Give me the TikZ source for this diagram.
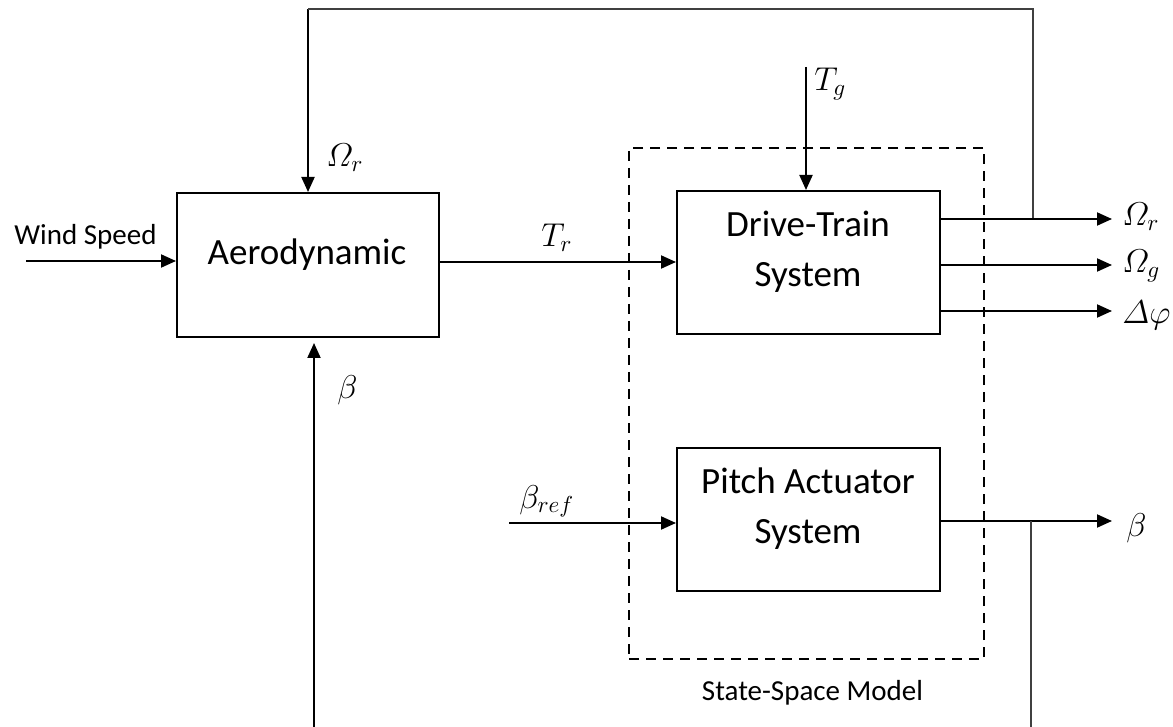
\RequirePackage{fix-cm}
\documentclass[tikz,border=0pt]{standalone}
\usepackage{amsmath}
\usepackage{fontspec}
\setmainfont{Carlito}
\usetikzlibrary{arrows.meta}
\begin{document}
\begin{tikzpicture}[x=0.5pt,y=-0.5pt,
  blk/.style={draw, line width=1pt, inner sep=0pt, anchor=north west},
  dashbox/.style={draw, line width=1pt, dash pattern=on 5pt off 3.5pt, inner sep=0pt, anchor=north west},
  arr/.style={line width=1pt, -{Triangle[length=7.5pt,width=6.5pt]}},
  fb/.style={line width=0.6pt, draw=black!75},
  bigtxt/.style={font=\fontsize{18.5}{25}\selectfont, inner sep=0pt, align=center},
  smalltxt/.style={font=\fontsize{14.5}{17}\selectfont, inner sep=0pt},
  mlab/.style={font=\fontsize{16.5}{18}\selectfont, inner sep=0pt, anchor=base west}]
\useasboundingbox (0,0) rectangle (1173,727);

% blocks
\node[dashbox, minimum width=177.5pt, minimum height=255.5pt] (ssm) at (628,147) {};
\node[blk, minimum width=131pt, minimum height=72pt] (aero) at (176,192) {};
\node[blk, minimum width=131.5pt, minimum height=71.5pt] (drive) at (676,190) {};
\node[blk, minimum width=131.5pt, minimum height=71.5pt] (pitch) at (676,447) {};

% block texts
\node[bigtxt, anchor=base] (aeroT) at (307,265) {Aerodynamic};
\node[bigtxt] (driveT) at (808,252) {Drive-Train\\System};
\node[bigtxt] (pitchT) at (808,509) {Pitch Actuator\\System};
\node[smalltxt] (wsT) at (85.5,237) {Wind Speed};
\node[smalltxt] (ssmT) at (812.5,693) {State-Space Model};

% coordinates
\coordinate (ws) at (26,261);
\coordinate (tl) at (308,9);
\coordinate (tr) at (1033,9);
\coordinate (bb) at (314,727);
\coordinate (tg) at (806,67);
\coordinate (o1) at (1112,219);
\coordinate (o2) at (1112,265);
\coordinate (o3) at (1112,311);
\coordinate (bo) at (1112,521);
\coordinate (bfb) at (1031,727);
\coordinate (bref) at (509,523);
\coordinate (trs) at (439,262);

% connectors
\draw[arr] (ws) -- (ws -| aero.west);
\draw[arr] (tl) -- (tl |- aero.north);
\draw[fb] (tl) -- (tr) -- (tr |- o1);
\draw[arr] (bb) -- ([yshift=-2.5pt]bb |- aero.south);
\draw[arr] (trs) -- (trs -| drive.west);
\draw[arr] (tg) -- (tg |- drive.north);
\draw[arr] (o1 -| drive.east) -- (o1);
\draw[arr] (o2 -| drive.east) -- (o2);
\draw[arr] (o3 -| drive.east) -- (o3);
\draw[arr] (bref) -- (bref -| pitch.west);
\draw[arr] (bo -| pitch.east) -- (bo);
\draw[fb] (bfb) -- (bfb |- bo);

% math labels
\node[mlab] (lOr) at (326,167) {$\varOmega_r$};
\node[mlab] (lTg) at (814,91) {$T_g$};
\node[mlab] (lTr) at (541,247) {$T_r$};
\node[mlab] (lB) at (337,399) {$\beta$};
\node[mlab] (lBref) at (519,508) {$\beta_{ref}$};
\node[mlab] (oOr) at (1122,226) {$\varOmega_r$};
\node[mlab] (oOg) at (1122,273) {$\varOmega_g$};
\node[mlab] (oDp) at (1122,323) {$\varDelta\varphi$};
\node[mlab] (oB) at (1126,536) {$\beta$};
\end{tikzpicture}
\end{document}
